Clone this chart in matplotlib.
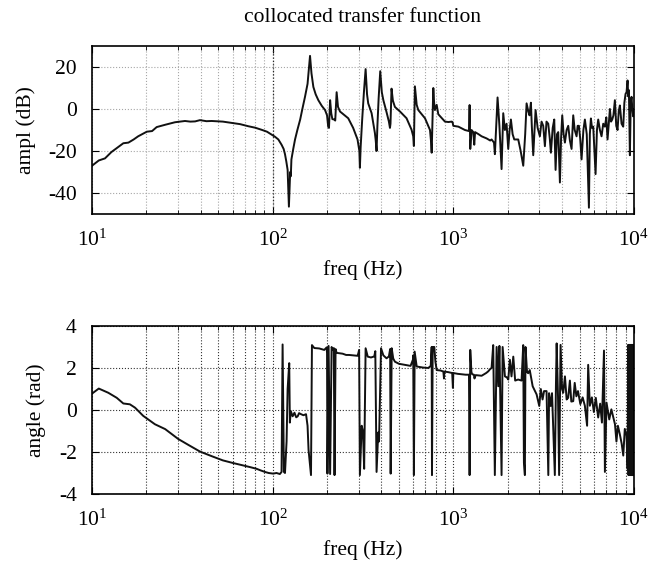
import matplotlib
matplotlib.use("Agg")
import matplotlib.pyplot as plt
from matplotlib.ticker import FixedLocator, LogLocator, NullFormatter

plt.rcParams["font.family"] = ["Liberation Serif", "DejaVu Serif"]
plt.rcParams["mathtext.fontset"] = "stix"
plt.rcParams["axes.unicode_minus"] = False
plt.rcParams["font.size"] = 15.5

# amplitude (dB)
amp_freq = [
    10, 10.9, 11.8, 12.8, 14, 14.9, 15.9, 17, 18, 20.1, 21.5, 22.8, 25.4, 28.8,
    32.7, 35, 37.2, 39.6, 43, 46, 53, 59.3, 66, 73.3, 80, 86.9, 93, 98.7, 103,
    107.5, 112, 115, 117, 119, 121, 123, 125, 126, 127, 130, 133, 137, 142, 146,
    151, 156, 161, 164, 168, 173, 179, 187, 195, 200, 203, 205, 208, 211, 214,
    219, 222, 226, 230, 236, 250, 262, 279, 295, 302, 304, 307, 313, 320, 327,
    333, 338, 353, 368, 372, 376, 380, 386, 394, 402, 410, 427, 440, 446, 449,
    455, 463, 475, 507, 551, 587, 600, 605, 613, 627, 640, 697, 743, 752, 759,
    775, 783, 791, 809, 826, 862, 899, 940, 979, 990, 1000, 1067, 1160, 1221,
    1231, 1241, 1262, 1290, 1306, 1320, 1380, 1435, 1529, 1600, 1629, 1680,
    1699, 1758, 1800, 1850, 1890, 1930, 1972, 2014, 2050, 2084, 2130, 2175,
    2288, 2360, 2439, 2500, 2545, 2599, 2640, 2689, 2720, 2770, 2854, 2930,
    3015, 3080, 3146, 3214, 3280, 3354, 3420, 3470, 3550, 3621, 3683, 3750,
    3810, 3892, 3950, 4009, 4080, 4148, 4240, 4328, 4420, 4515, 4612, 4700,
    4813, 4880, 4959, 5040, 5129, 5250, 5351, 5480, 5633, 5700, 5777, 5860,
    5952, 6132, 6240, 6342, 6480, 6617, 6760, 6905, 7030, 7143, 7361, 7470,
    7583, 7700, 7843, 7980, 8114, 8240, 8359, 8540, 8723, 8850, 8987, 9100,
    9219, 9300, 9376, 9496, 9600, 9698, 9800, 9906, 10000,
]
amp_db = [
    -27, -24.5, -23.5, -20.5, -18, -16.3, -16, -14.5, -13, -10.8, -10.5, -8.6,
    -7.5, -6.3, -5.7, -6, -5.9, -5.3, -5.8, -5.7, -6.0, -6.6, -7.2, -8.2, -8.9,
    -9.9, -10.8, -12.2, -13.2, -14.5, -17, -19, -21.5, -25, -29, -46.5, -30,
    -32, -24, -19, -14.5, -10, -5, 0, 5.8, 12, 25.3, 17, 10.5, 7, 4.2, 1.5,
    -0.5, -3, -8.5, -9, 4.2, -2, -4.8, -5, -5.5, 8, 1, -1.2, -3, -4.4, -9,
    -14.5, -20, -28, -18, -5, 8, 19, 7, 2.7, -2, -11.4, -15, -20, -8, 5, 18,
    8, 4.2, -1.5, -6, -9, -7, 9.7, 4, 1, -1.2, -4.4, -9.8, -13, -17.6, 10.8,
    2, -0.5, -4.4, -10, -15, -20.8, 10, 3, -0.5, 2, -2.5, -4.3, -6, -6.2, -6,
    -6.2, -8, -8.4, -10, -10.5, 1.9, -19, -10, -11, -17, -11, -12, -13, -14,
    -15, -14.5, -16, -21.5, 5.5, -8, -28.6, -2, -10, -7, -19, -10, -5, -12,
    -14.5, -14.5, -20, -27, -12, 2.7, -1, -3, 3, -8, -22, -0.5, -9, -13, -6,
    -8, -17.7, -6, -7, -14, -20.8, -9, -5, -29, -12, -11, -35, -14, -3, -12,
    -16, -10, -8, -15, -19, -3, -10, -13, -8, -8, -14, -24, -10, -5, -12, -47,
    -12, -4.5, -9, -8.4, -31, -10, -5, -10, -13, -7, -8.4, -4, -14.5, 0, -6,
    -5, -3, 4.2, -8, -10, -1, 1.7, -7, -8.4, 3, 7.2, 8, 13.6, 6, 9, -22, 3,
    5.8, 0, -3.5, 0,
]

# phase (rad)
ph_freq = [
    10, 10.9, 12.3, 13.7, 14.9, 16.2, 17.3, 19.2, 22.3, 25.4, 30, 34.1, 39.6,
    46, 53, 60, 68.8, 75, 81.4, 86, 90.6, 95, 100.7, 105, 109.6, 112, 113.5,
    115.4, 117, 119.4, 121, 123.5, 124.5, 126, 129, 132, 135, 137.6, 140,
    143.6, 148, 153, 156, 158, 161, 163, 165, 170, 181, 193, 199, 200, 201,
    204, 208, 212, 215, 218, 220, 223, 226, 235, 244, 255, 265, 280, 295, 298,
    301, 304, 311, 316, 321, 327, 336, 350, 365, 370, 376, 384, 388, 398, 410,
    427, 440, 447, 450, 456, 465, 475, 500, 540, 580, 598, 600, 605, 611, 627,
    680, 727, 750, 759, 762, 769, 785, 796, 809, 850, 881, 888, 892, 940, 986,
    995, 1000, 1060, 1112, 1170, 1221, 1231, 1241, 1260, 1273, 1300, 1310,
    1330, 1435, 1466, 1520, 1561, 1600, 1629, 1663, 1698, 1737, 1774, 1800,
    1850, 1875, 1931, 1980, 2015, 2057, 2100, 2148, 2200, 2286, 2387, 2438,
    2460, 2490, 2510, 2560, 2598, 2650, 2700, 2750, 2892, 2991, 3050, 3120,
    3180, 3283, 3357, 3390, 3460, 3520, 3648, 3700, 3734, 3800, 3853, 3925,
    4000, 4061, 4150, 4240, 4325, 4420, 4500, 4612, 4700, 4800, 4900, 5050,
    5200, 5350, 5504, 5580, 5700, 5850, 6000, 6150, 6339, 6500, 6650, 6826,
    6906, 7050, 7300, 7500, 7852, 8000, 8150, 8350, 8550, 8727, 8900, 9101,
    9220, 9300, 9330, 9360, 9390, 9420, 9450, 9480, 9510, 9540, 9570, 9600,
    9630, 9660, 9690, 9720, 9750, 9780, 9810, 9840, 9870, 9900, 9930, 9960,
    9990,
]
ph_rad = [
    0.78, 1.02, 0.82, 0.58, 0.31, 0.27, 0.11, -0.28, -0.68, -0.91, -1.38,
    -1.66, -1.98, -2.2, -2.4, -2.52, -2.64, -2.72, -2.8, -2.88, -2.95, -3.0,
    -3.03, -3.0, -3.05, -2.95, 3.12, -2.95, -3.0, -1.5, 1.0, 2.23, -0.6,
    -0.05, -0.3, -0.13, -0.35, -0.3, -0.15, -0.2, -0.25, -0.2, -0.75, -1.9,
    -2.6, -3.1, 3.09, 2.95, 2.93, 2.86, 2.98, 2.7, -3.03, 3.05, -3.05, 3.0,
    2.85, 2.95, -3.1, 2.9, 2.72, 2.7, 2.68, 2.62, 2.62, 2.6, 2.58, 2.7, 2.86,
    -3.1, -0.75, -1.0, -2.8, 2.94, 2.54, 2.5, 2.55, 2.8, -2.95, -1.07, -1.5,
    2.94, 2.6, 2.46, 2.55, 2.9, -3.03, 2.94, 2.45, 2.3, 2.2, 2.15, 2.1, 2.4,
    2.6, -3.1, 2.78, 2.07, 2.02, 2.0, 2.1, 3.0, -3.1, 3.0, 3.0, 2.3, 1.9,
    1.88, 1.83, 1.5, 1.83, 1.8, 1.76, 1.05, 1.76, 1.72, 1.7, 1.68, 1.68, -3.1,
    2.86, 1.8, 1.7, 1.68, 1.5, 1.66, 1.63, 1.68, 1.76, 1.84, 1.95, 2.0, 3.09,
    -3.1, 3.0, 1.13, 3.05, -3.1, 3.0, 1.6, 1.55, 1.45, 2.39, 1.6, 2.54, 1.4,
    1.45, 1.4, 3.09, -2.5, -3.1, 3.0, 1.8, 1.75, 1.9, 1.5, 1.13, 0.74, 0.19,
    1.0, 0.5, 0.9, 0.9, -3.1, 0.8, 0.19, 0.8, -3.1, 1.2, 3.17, 0.6, -3.1, 3.1,
    1.0, 0.82, 1.6, 0.5, 0.58, 1.4, 0.4, 0.42, 1.29, 0.65, 0.9, 0.28, 0.6,
    0.2, -0.75, 2.15, 0.2, 0.6, -0.1, 0.58, -0.36, 0.3, -0.6, 2.83, -2.95,
    0.35, -0.45, 0.03, -0.68, -1.5, -0.75, -1.15, -1.6, -2.17, -0.9, -1.22,
    -2.8, 3.1, -3.1, 3.1, -3.1, 3.1, -3.1, 3.1, -3.1, 3.1, -3.1, 3.1, -3.1,
    3.1, -3.1, 3.1, -3.1, 3.1, -3.1, 3.1, -3.1, 3.1, -3.1, 3.1, -3.1,
]

x_ticks = [10, 100, 1000, 10000]
amp_ticks = [-40, -20, 0, 20]
ph_ticks = [-4, -2, 0, 2, 4]


def style_axis(ax, grid_color):
    ax.set_xscale("log")
    ax.set_xlim(10, 10000)
    ax.xaxis.set_major_locator(FixedLocator(x_ticks))
    ax.xaxis.set_minor_locator(LogLocator(base=10, subs=range(2, 10)))
    ax.xaxis.set_minor_formatter(NullFormatter())
    ax.tick_params(which="both", direction="in", top=True, right=True)
    ax.tick_params(which="major", length=5, pad=11)
    ax.tick_params(which="minor", length=3)
    ax.grid(True, which="both", axis="x", color=grid_color, ls=":", lw=0.8)
    ax.grid(True, which="major", axis="y", color=grid_color, ls=":", lw=0.8)
    for s in ax.spines.values():
        s.set_linewidth(1.2)
    ax.set_xlabel("freq (Hz)", labelpad=7)


fig = plt.figure(figsize=(6.49, 5.68), dpi=100)

ax1 = fig.add_axes([0.1418, 0.6232, 0.835, 0.2958])
ax1.plot(amp_freq, amp_db, color="#111111", lw=1.4)
style_axis(ax1, "0.65")
ax1.axvline(100, color="0.15", ls=":", lw=0.9)
ax1.set_ylim(-50, 30)
ax1.set_yticks(amp_ticks)
ax1.set_ylabel("ampl (dB)", labelpad=9)
ax1.set_title("collocated transfer function", fontsize=15.5, pad=17)

ax2 = fig.add_axes([0.1418, 0.1303, 0.835, 0.2958])
ax2.plot(ph_freq, ph_rad, color="#111111", lw=1.4)
style_axis(ax2, "0.2")
ax2.set_ylim(-4, 4)
ax2.set_yticks(ph_ticks)
ax2.set_ylabel("angle (rad)", labelpad=9)

fig.savefig("out.png", dpi=100)
